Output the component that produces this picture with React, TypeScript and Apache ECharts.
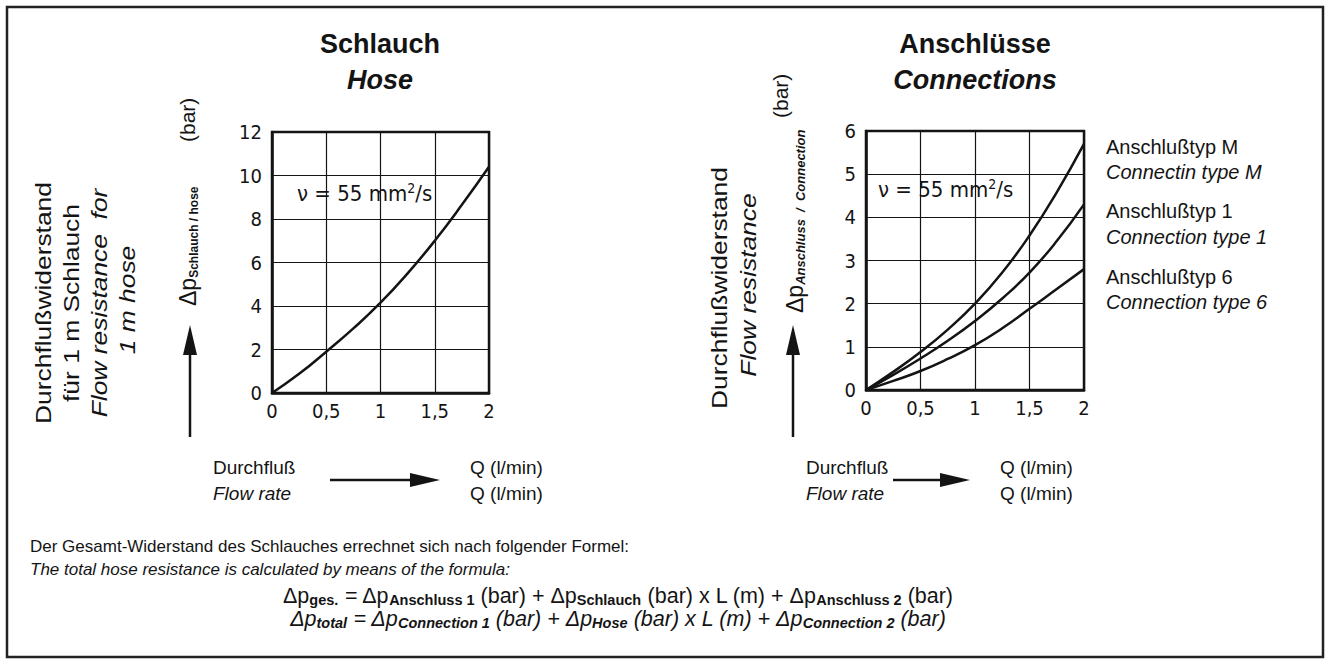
import React, { useEffect, useRef } from "react";
import * as echarts from "echarts";

// ---- data ----
const flowRates = [0, 0.25, 0.5, 0.75, 1, 1.25, 1.5, 1.75, 2];
const hoseDp = [0, 0.88, 1.9, 2.97, 4.15, 5.5, 7.0, 8.65, 10.4];
const connTypeM = [0, 0.42, 0.88, 1.4, 2.0, 2.72, 3.58, 4.58, 5.7];
const connType1 = [0, 0.35, 0.73, 1.14, 1.6, 2.12, 2.72, 3.45, 4.3];
const connType6 = [0, 0.21, 0.44, 0.72, 1.04, 1.43, 1.88, 2.34, 2.8];
const legendDe = ["Anschlußtyp M", "Anschlußtyp 1", "Anschlußtyp 6"];
const legendEn = ["Connectin type M", "Connection type 1", "Connection type 6"];

const SANS = "'Liberation Sans', Arial, Helvetica, sans-serif";
const DIN = "'DejaVu Sans Condensed', 'DejaVu Sans', sans-serif";
const INK = "#141414";

function zip(ys: number[]) {
  return flowRates.map((q, i) => [q, ys[i]]);
}

function txt(x: number, y: number, text: string, o: any = {}) {
  return {
    type: "text",
    x,
    y,
    rotation: o.rotation || 0,
    scaleX: o.scaleX || 1,
    silent: true,
    style: {
      text,
      fill: INK,
      fontSize: o.fontSize || 19,
      fontFamily: o.fontFamily || SANS,
      fontWeight: o.fontWeight || "normal",
      fontStyle: o.fontStyle || "normal",
      align: o.align || "left",
      verticalAlign: o.verticalAlign || "middle",
      lineHeight: o.lineHeight,
      rich: o.rich,
    },
  };
}

function arrowUp(x: number, yTip: number, yBase: number) {
  return [
    { type: "line", silent: true, shape: { x1: x, y1: yBase, x2: x, y2: yTip + 20 }, style: { stroke: INK, lineWidth: 2.5 } },
    { type: "polygon", silent: true, shape: { points: [[x, yTip], [x - 7, yTip + 30], [x + 7, yTip + 30]] }, style: { fill: INK } },
  ];
}

function arrowRight(x1: number, x2: number, y: number) {
  return [
    { type: "line", silent: true, shape: { x1, y1: y, x2: x2 - 20, y2: y }, style: { stroke: INK, lineWidth: 2.5 } },
    { type: "polygon", silent: true, shape: { points: [[x2, y], [x2 - 30, y - 7], [x2 - 30, y + 7]] }, style: { fill: INK } },
  ];
}

function subStyle(size: number, italic: boolean) {
  return {
    s: {
      fontSize: size,
      lineHeight: size,
      verticalAlign: "bottom",
      fontWeight: "bold",
      fontStyle: italic ? "italic" : "normal",
      fontFamily: SANS,
      fill: INK,
    },
  };
}
const nuRich = {
  sup: { fontSize: 14, lineHeight: 12, verticalAlign: "top", fontFamily: DIN, fill: INK },
};

function axisX(gridIndex: number) {
  return {
    gridIndex,
    type: "value",
    min: 0,
    max: 2,
    interval: 0.5,
    axisLine: { show: true, lineStyle: { color: INK, width: 2.5 } },
    axisTick: { show: false },
    splitLine: { show: true, lineStyle: { color: INK, width: 1.2 } },
    axisLabel: {
      color: INK,
      fontSize: 20,
      fontFamily: DIN,
      margin: 8,
      formatter: (v: number) => String(v).replace(".", ","),
    },
  };
}

function axisY(gridIndex: number, max: number, interval: number) {
  return {
    gridIndex,
    type: "value",
    min: 0,
    max,
    interval,
    axisLine: { show: true, lineStyle: { color: INK, width: 2.5 } },
    axisTick: { show: false },
    splitLine: { show: true, lineStyle: { color: INK, width: 1.2 } },
    axisLabel: { color: INK, fontSize: 20, fontFamily: DIN, margin: 10 },
  };
}

function curve(xi: number, ys: number[]) {
  return {
    type: "line",
    xAxisIndex: xi,
    yAxisIndex: xi,
    data: zip(ys),
    smooth: 0.5,
    showSymbol: false,
    silent: true,
    lineStyle: { color: INK, width: 2.5 },
  };
}

export default function App() {
  const ref = useRef<HTMLDivElement>(null);
  useEffect(() => {
    if (!ref.current) return;
    const chart = echarts.init(ref.current, undefined, { renderer: "svg" });
    const R = Math.PI / 2;
    const graphic: any[] = [
      { type: "rect", silent: true, shape: { x: 7, y: 7, width: 1316, height: 650 }, style: { fill: "none", stroke: "#222", lineWidth: 2.5 } },
      // titles
      txt(380, 44, "Schlauch", { fontSize: 27, fontWeight: "bold", align: "center" }),
      txt(380, 80, "Hose", { fontSize: 27, fontWeight: "bold", fontStyle: "italic", align: "center" }),
      txt(975, 44, "Anschlüsse", { fontSize: 27, fontWeight: "bold", align: "center" }),
      txt(975, 80, "Connections", { fontSize: 27, fontWeight: "bold", fontStyle: "italic", align: "center" }),
      // left vertical description
      txt(43, 303, "Durchflußwiderstand", { rotation: R, align: "center", fontSize: 22, scaleX: 1.2 }),
      txt(71, 303, "für 1 m Schlauch", { rotation: R, align: "center", fontSize: 22, scaleX: 1.2 }),
      txt(99, 303, "Flow resistance  for", { rotation: R, align: "center", fontSize: 22, fontStyle: "italic", scaleX: 1.2 }),
      txt(127, 300, "1 m hose", { rotation: R, align: "center", fontSize: 22, fontStyle: "italic", scaleX: 1.2 }),
      txt(188, 306, "Δp{s|Schlauch / hose}", { rotation: R, align: "left", fontSize: 23, rich: subStyle(12, false), lineHeight: 24 }),
      txt(187, 142, "(bar)", { rotation: R, align: "left", fontSize: 21 }),
      ...arrowUp(190, 325, 437),
      // right vertical description
      txt(719, 288, "Durchflußwiderstand", { rotation: R, align: "center", fontSize: 22, scaleX: 1.2 }),
      txt(748, 285, "Flow resistance", { rotation: R, align: "center", fontSize: 22, fontStyle: "italic", scaleX: 1.2 }),
      txt(795, 313, "Δp{s|Anschluss  /  Connection}", { rotation: R, align: "left", fontSize: 23, rich: subStyle(13, true), lineHeight: 24 }),
      txt(780, 118, "(bar)", { rotation: R, align: "left", fontSize: 21 }),
      ...arrowUp(793, 325, 437),
      // viscosity notes
      txt(297, 193, "ν = 55 mm{sup|2}/s", { fontSize: 22, fontFamily: DIN, rich: nuRich, lineHeight: 24 }),
      txt(878, 189, "ν = 55 mm{sup|2}/s", { fontSize: 22, fontFamily: DIN, rich: nuRich, lineHeight: 24 }),
      // legend
      txt(1106, 147, legendDe[0], { fontSize: 20 }),
      txt(1106, 172, legendEn[0], { fontSize: 20, fontStyle: "italic" }),
      txt(1106, 211, legendDe[1], { fontSize: 20 }),
      txt(1106, 237, legendEn[1], { fontSize: 20, fontStyle: "italic" }),
      txt(1106, 277, legendDe[2], { fontSize: 20 }),
      txt(1106, 302, legendEn[2], { fontSize: 20, fontStyle: "italic" }),
      // x axis descriptions
      txt(213, 467, "Durchfluß", { fontSize: 19 }),
      txt(213, 493, "Flow rate", { fontSize: 19, fontStyle: "italic" }),
      ...arrowRight(330, 440, 480),
      txt(470, 467, "Q (l/min)", { fontSize: 19 }),
      txt(470, 493, "Q (l/min)", { fontSize: 19 }),
      txt(806, 467, "Durchfluß", { fontSize: 19 }),
      txt(806, 493, "Flow rate", { fontSize: 19, fontStyle: "italic" }),
      ...arrowRight(893, 970, 480),
      txt(1000, 467, "Q (l/min)", { fontSize: 19 }),
      txt(1000, 493, "Q (l/min)", { fontSize: 19 }),
      // formula block
      txt(30, 546, "Der Gesamt-Widerstand des Schlauches errechnet sich nach folgender Formel:", { fontSize: 17 }),
      txt(30, 569, "The total hose resistance is calculated by means of the formula:", { fontSize: 17, fontStyle: "italic" }),
      txt(618, 596, "Δp{s|ges.} = Δp{s|Anschluss 1} (bar) + Δp{s|Schlauch} (bar) x L (m) + Δp{s|Anschluss 2} (bar)", { fontSize: 21.5, align: "center", rich: subStyle(14.5, false), lineHeight: 22 }),
      txt(618, 619, "Δp{s|total} = Δp{s|Connection 1} (bar) + Δp{s|Hose} (bar) x L (m) + Δp{s|Connection 2} (bar)", { fontSize: 21.5, fontStyle: "italic", align: "center", rich: subStyle(14.5, true), lineHeight: 22 }),
    ];

    chart.setOption({
      animation: false,
      backgroundColor: "#ffffff",
      grid: [
        { left: 272, top: 132, width: 217, height: 261, show: true, borderColor: INK, borderWidth: 2.5, containLabel: false },
        { left: 866, top: 131, width: 218, height: 259, show: true, borderColor: INK, borderWidth: 2.5, containLabel: false },
      ],
      xAxis: [axisX(0), axisX(1)],
      yAxis: [axisY(0, 12, 2), axisY(1, 6, 1)],
      series: [curve(0, hoseDp), curve(1, connTypeM), curve(1, connType1), curve(1, connType6)],
      graphic,
    });
    return () => chart.dispose();
  }, []);
  return (
    <div
      ref={ref}
      style={{ position: "fixed", left: 0, top: 0, width: 1329, height: 666, background: "#fff" }}
    />
  );
}
